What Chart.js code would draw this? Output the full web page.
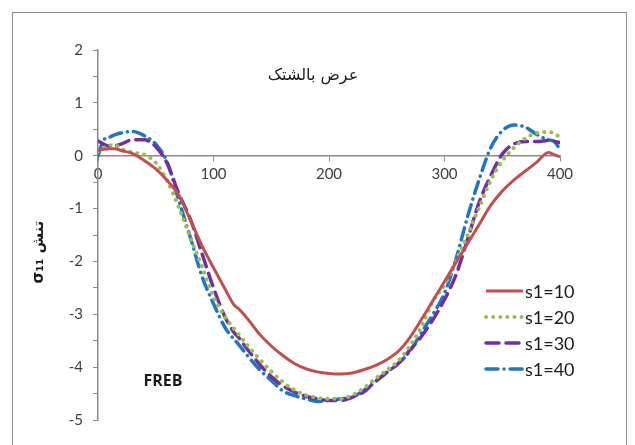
<!DOCTYPE html>
<html>
<head>
<meta charset="utf-8">
<script src="https://cdn.jsdelivr.net/npm/chart.js@4"></script>
<style>
  body { margin: 0; background: #fff; }
</style>
</head>
<body>
<canvas id="myChart" width="635" height="445"></canvas>
<script>
// positions along the width (x axis)
const xValues = [0, 5, 10, 15, 20, 30, 40, 50, 60, 70, 80, 90, 100, 110, 118, 121, 130, 140, 150, 160,
  170, 180, 190, 200, 210, 220, 230, 240, 250, 260, 270, 280, 290, 300, 310, 320, 330, 340, 350, 360,
  370, 380, 390, 395, 400];

const s10 = [0.1, 0.12, 0.13, 0.13, 0.1, 0.04, -0.09, -0.25, -0.47, -0.75, -1.22, -1.7, -2.12, -2.52, -2.83, -2.88, -3.1, -3.38, -3.6, -3.78,
  -3.93, -4.03, -4.09, -4.12, -4.13, -4.11, -4.05, -3.97, -3.86, -3.7, -3.44, -3.1, -2.74, -2.38, -2.02, -1.66, -1.3, -0.94, -0.67, -0.46,
  -0.29, -0.12, 0.06, 0.02, -0.02];

const s20 = [0.08, 0.15, 0.2, 0.2, 0.13, 0.06, 0.02, -0.13, -0.48, -0.98, -1.55, -2.1, -2.67, -3.05, -3.28, -3.36, -3.6, -3.85, -4.08, -4.28,
  -4.43, -4.53, -4.58, -4.6, -4.6, -4.53, -4.4, -4.22, -4.06, -3.88, -3.6, -3.24, -2.75, -2.45, -1.98, -1.5, -0.98, -0.47, -0.1, 0.15,
  0.33, 0.43, 0.45, 0.42, 0.35];

const s30 = [0.28, 0.22, 0.18, 0.19, 0.22, 0.3, 0.3, 0.17, -0.15, -0.72, -1.2, -1.85, -2.5, -3.05, -3.35, -3.42, -3.68, -3.95, -4.18, -4.35,
  -4.47, -4.55, -4.6, -4.63, -4.63, -4.57, -4.47, -4.27, -4.1, -3.93, -3.68, -3.42, -3.1, -2.72, -2.25, -1.58, -0.88, -0.38, 0.03, 0.22,
  0.27, 0.27, 0.29, 0.27, 0.25];

const s40 = [0.0, 0.3, 0.35, 0.4, 0.43, 0.46, 0.38, 0.22, -0.13, -0.85, -1.55, -2.28, -2.8, -3.25, -3.48, -3.55, -3.8, -4.05, -4.25, -4.45,
  -4.54, -4.6, -4.65, -4.63, -4.6, -4.57, -4.44, -4.28, -4.1, -3.93, -3.7, -3.35, -3.0, -2.6, -1.95, -1.15, -0.45, 0.15, 0.47, 0.58,
  0.54, 0.4, 0.3, 0.27, 0.12];

const seriesNames = ["s1=10", "s1=20", "s1=30", "s1=40"];
const seriesValues = [s10, s20, s30, s40];
const seriesColors = ["#c0504d", "#9bbb59", "#7030a0", "#1f77c0"];
const seriesWidths = [3, 4, 3.5, 3.5];
const seriesDash = [[], [0.1, 7], [13, 7], [12, 6, 0.1, 6]];

const yTicks = [2, 1, 0, -1, -2, -3, -4, -5];
const xTicks = [0, 100, 200, 300, 400];

const chartTitle = "عرض بالشتک";
const yTitle = "σ₁₁ تنش";
const noteText = "FREB";

const axisGray = "#8a8a8a";
const textGray = "#404040";

const datasets = seriesNames.map((name, i) => ({
  label: name,
  data: xValues.map((x, j) => ({ x, y: seriesValues[i][j] })),
  borderColor: seriesColors[i],
  borderWidth: seriesWidths[i],
  borderDash: seriesDash[i],
  borderCapStyle: i === 0 ? "butt" : "round",
  pointRadius: 0,
  cubicInterpolationMode: "monotone",
  fill: false,
}));

const overlay = {
  id: "overlay",
  beforeDraw(chart) {
    const ctx = chart.ctx;
    ctx.save();
    ctx.fillStyle = "#fff";
    ctx.fillRect(0, 0, chart.width, chart.height);
    ctx.strokeStyle = "#8c8c8c";
    ctx.lineWidth = 1;
    ctx.strokeRect(12.5, 12.5, 614, 445);
    ctx.restore();
  },
  afterDraw(chart) {
    const ctx = chart.ctx;
    ctx.save();
    ctx.fillStyle = "#1a1a1a";
    ctx.textAlign = "center";
    ctx.textBaseline = "middle";
    ctx.font = "16px 'DejaVu Sans'";
    ctx.fillText(chartTitle, 313, 76);

    ctx.font = "bold 16px 'Open Sans'";
    ctx.fillText(noteText, 163, 381);

    ctx.save();
    ctx.translate(39, 252);
    ctx.rotate(-Math.PI / 2);
    ctx.font = "bold 15px 'DejaVu Sans'";
    ctx.fillText(yTitle, 0, 0);
    ctx.restore();

    // legend
    const rows = [291, 317, 343, 369];
    chart.data.datasets.forEach((ds, i) => {
      const y = rows[i];
      ctx.beginPath();
      ctx.strokeStyle = ds.borderColor;
      ctx.lineWidth = ds.borderWidth;
      ctx.lineCap = ds.borderCapStyle;
      ctx.setLineDash(ds.borderDash);
      ctx.moveTo(486, y);
      ctx.lineTo(523, y);
      ctx.stroke();
      ctx.setLineDash([]);
      ctx.fillStyle = "#1a1a1a";
      ctx.textAlign = "left";
      ctx.font = "18px Lato";
      ctx.fillText(ds.label, 525, y + 1);
    });
    ctx.restore();
  },
};

new Chart(document.getElementById("myChart"), {
  type: "line",
  data: { datasets },
  options: {
    responsive: false,
    animation: false,
    layout: { padding: { left: 0, top: 50, right: 75, bottom: 25 } },
    plugins: { legend: { display: false }, tooltip: { enabled: false } },
    scales: {
      x: {
        type: "linear",
        min: 0,
        max: 400,
        position: { y: 0 },
        afterBuildTicks: (scale) => { scale.ticks = xTicks.map((v) => ({ value: v })); },
        ticks: { color: textGray, font: { family: "Lato", size: 15 }, padding: 4, maxRotation: 0 },
        grid: { drawOnChartArea: false, drawTicks: true, tickLength: 5, color: axisGray },
        border: { color: axisGray, width: 1.5 },
      },
      y: {
        min: -5,
        max: 2,
        afterFit: (scale) => { scale.width = 98; },
        afterBuildTicks: (scale) => {
          const list = [];
          for (let i = 0; i < yTicks.length; i++) {
            list.push({ value: yTicks[i] });
            if (i < yTicks.length - 1) list.push({ value: yTicks[i] - 0.5 });
          }
          scale.ticks = list;
        },
        ticks: {
          color: textGray,
          font: { family: "Lato", size: 15 },
          padding: 10,
          callback: (v) => (yTicks.includes(v) ? String(v) : ""),
        },
        grid: { drawOnChartArea: false, drawTicks: true, tickLength: 5, color: axisGray },
        border: { color: axisGray, width: 1.5 },
      },
    },
  },
  plugins: [overlay],
});
</script>
</body>
</html>
